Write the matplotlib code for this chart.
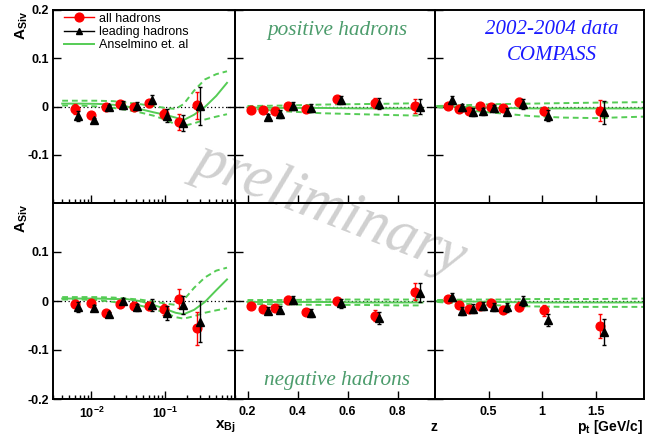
import numpy as np
import matplotlib
matplotlib.use("Agg")
import matplotlib.pyplot as plt
from matplotlib.lines import Line2D
from matplotlib.ticker import LogLocator, NullFormatter, FixedLocator

plt.rcParams['font.family'] = ['Liberation Sans', 'DejaVu Sans']
plt.rcParams['mathtext.fontset'] = 'custom'
plt.rcParams['mathtext.bf'] = 'Liberation Sans:bold'
plt.rcParams['mathtext.rm'] = 'Liberation Sans:bold'

# ---------------- x_Bj binning ----------------
xbj_all = [0.0059, 0.0100, 0.0157, 0.0243, 0.0382, 0.0605, 0.0969, 0.155, 0.276]
xbj_lead = [0.0066, 0.0109, 0.0174, 0.0270, 0.0420, 0.0670, 0.107, 0.174, 0.300]
pos_xbj_all = [-0.0055, -0.0186, 0.000, 0.006, -0.001, 0.007, -0.015, -0.032, 0.003]
pos_xbj_all_err = [0.011, 0.006, 0.005, 0.006, 0.006, 0.007, 0.010, 0.016, 0.028]
pos_xbj_lead = [-0.020, -0.028, -0.002, 0.003, 0.001, 0.014, -0.019, -0.034, 0.001]
pos_xbj_lead_err = [0.010, 0.005, 0.006, 0.008, 0.008, 0.009, 0.013, 0.017, 0.040]
neg_xbj_all = [-0.007, -0.005, -0.024, -0.006, -0.010, -0.010, -0.017, 0.005, -0.056]
neg_xbj_all_err = [0.006, 0.006, 0.006, 0.005, 0.006, 0.008, 0.011, 0.019, 0.033]
neg_xbj_lead = [-0.012, -0.015, -0.027, 0.000, -0.013, -0.008, -0.024, -0.008, -0.042]
neg_xbj_lead_err = [0.010, 0.006, 0.005, 0.006, 0.007, 0.012, 0.014, 0.018, 0.042]

# ---------------- z binning ----------------
z_all = [0.212, 0.262, 0.311, 0.362, 0.432, 0.556, 0.709, 0.870]
z_lead = [0.282, 0.331, 0.381, 0.454, 0.573, 0.726, 0.891]
pos_z_all = [-0.007, -0.007, -0.010, 0.001, -0.005, 0.015, 0.007, 0.001]
pos_z_all_err = [0.005, 0.005, 0.006, 0.007, 0.005, 0.006, 0.010, 0.015]
pos_z_lead = [-0.022, -0.015, 0.001, -0.003, 0.014, 0.006, 0.000]
pos_z_lead_err = [0.006, 0.008, 0.009, 0.008, 0.008, 0.011, 0.016]
neg_z_all = [-0.010, -0.016, -0.014, 0.003, -0.023, -0.001, -0.030, 0.019]
neg_z_all_err = [0.005, 0.005, 0.006, 0.007, 0.006, 0.008, 0.011, 0.017]
neg_z_lead = [-0.020, -0.018, 0.002, -0.025, -0.005, -0.034, 0.017]
neg_z_lead_err = [0.007, 0.007, 0.009, 0.008, 0.009, 0.012, 0.020]

# ---------------- p_t binning ----------------
pt_all = [0.118, 0.220, 0.320, 0.419, 0.519, 0.637, 0.786, 1.016, 1.540]
pt_lead = [0.158, 0.255, 0.354, 0.450, 0.553, 0.674, 0.823, 1.050, 1.578]
pos_pt_all = [0.001, -0.005, -0.009, 0.001, 0.000, -0.003, 0.010, -0.010, -0.009]
pos_pt_all_err = [0.006, 0.006, 0.006, 0.005, 0.006, 0.006, 0.007, 0.008, 0.022]
pos_pt_lead = [0.014, -0.002, -0.011, -0.010, -0.004, -0.011, 0.005, -0.019, -0.012]
pos_pt_lead_err = [0.008, 0.008, 0.008, 0.007, 0.007, 0.007, 0.010, 0.011, 0.024]
neg_pt_all = [0.004, -0.008, -0.016, -0.011, -0.005, -0.018, -0.012, -0.019, -0.051]
neg_pt_all_err = [0.006, 0.006, 0.006, 0.006, 0.007, 0.007, 0.009, 0.011, 0.025]
neg_pt_lead = [0.009, -0.020, -0.016, -0.010, -0.013, -0.013, 0.000, -0.038, -0.063]
neg_pt_lead_err = [0.008, 0.008, 0.009, 0.008, 0.008, 0.009, 0.010, 0.012, 0.027]

# ---------------- Anselmino et al. predictions (central, upper, lower) ----------------
th_xbj = [0.004, 0.007, 0.012, 0.02, 0.03, 0.045, 0.07, 0.1, 0.14, 0.18, 0.25, 0.35, 0.5, 0.7]
th_pos_xbj = [0.006, 0.006, 0.0055, 0.0035, 0.0, -0.005, -0.012, -0.017, -0.023, -0.028, -0.017, -0.001, 0.022, 0.049]
th_pos_xbj_up = [0.012, 0.012, 0.012, 0.011, 0.008, 0.005, 0.001, -0.003, -0.005, 0.005, 0.033, 0.056, 0.067, 0.073]
th_pos_xbj_lo = [0.002, 0.002, 0.000, -0.003, -0.007, -0.012, -0.019, -0.027, -0.037, -0.040, -0.035, -0.027, -0.021, -0.016]
th_neg_xbj = [0.005, 0.005, 0.005, 0.004, 0.004, 0.000, -0.008, -0.016, -0.024, -0.027, -0.018, -0.002, 0.022, 0.044]
th_neg_xbj_up = [0.008, 0.008, 0.008, 0.007, 0.005, 0.003, -0.001, -0.005, -0.008, 0.002, 0.027, 0.048, 0.062, 0.068]
th_neg_xbj_lo = [0.003, 0.003, 0.002, -0.002, -0.005, -0.009, -0.016, -0.024, -0.033, -0.036, -0.031, -0.024, -0.019, -0.015]

th_z = [0.2, 0.35, 0.5, 0.65, 0.8, 0.9]
th_pos_z = [-0.002, -0.003, -0.003, -0.004, -0.004, -0.004]
th_pos_z_up = [0.001, 0.002, 0.004, 0.005, 0.006, 0.007]
th_pos_z_lo = [-0.004, -0.010, -0.014, -0.016, -0.018, -0.019]
th_neg_z = [-0.002, -0.002, -0.002, -0.003, -0.003, -0.003]
th_neg_z_up = [0.002, 0.002, 0.003, 0.003, 0.003, 0.003]
th_neg_z_lo = [-0.006, -0.007, -0.008, -0.008, -0.009, -0.009]

th_pt = [0.02, 0.3, 0.6, 0.9, 1.2, 1.5, 1.95]
th_pos_pt = [0.001, -0.001, -0.003, -0.004, -0.004, -0.004, -0.004]
th_pos_pt_up = [0.001, 0.003, 0.005, 0.006, 0.007, 0.008, 0.009]
th_pos_pt_lo = [-0.001, -0.008, -0.014, -0.020, -0.023, -0.024, -0.021]
th_neg_pt = [0.000, -0.001, -0.002, -0.003, -0.003, -0.003, -0.003]
th_neg_pt_up = [0.002, 0.003, 0.003, 0.004, 0.004, 0.004, 0.005]
th_neg_pt_lo = [-0.002, -0.006, -0.009, -0.011, -0.012, -0.012, -0.012]

RED = '#ff0000'
GREEN = '#55cc55'
W, H = 665, 438

fig = plt.figure(figsize=(W / 100, H / 100), dpi=100)


def px_axes(x0, x1, y0, y1):
    return fig.add_axes([x0 / W, 1 - y1 / H, (x1 - x0) / W, (y1 - y0) / H],
                        facecolor='none')


cols = [(53, 235), (235, 435), (435, 644)]
rows = [(10, 203), (203, 399)]

panels = [
    # (row, col, xa, ya, yea, xl, yl, yel, thx, th, thu, thl)
    (0, 0, xbj_all, pos_xbj_all, pos_xbj_all_err, xbj_lead, pos_xbj_lead, pos_xbj_lead_err,
     th_xbj, th_pos_xbj, th_pos_xbj_up, th_pos_xbj_lo),
    (1, 0, xbj_all, neg_xbj_all, neg_xbj_all_err, xbj_lead, neg_xbj_lead, neg_xbj_lead_err,
     th_xbj, th_neg_xbj, th_neg_xbj_up, th_neg_xbj_lo),
    (0, 1, z_all, pos_z_all, pos_z_all_err, z_lead, pos_z_lead, pos_z_lead_err,
     th_z, th_pos_z, th_pos_z_up, th_pos_z_lo),
    (1, 1, z_all, neg_z_all, neg_z_all_err, z_lead, neg_z_lead, neg_z_lead_err,
     th_z, th_neg_z, th_neg_z_up, th_neg_z_lo),
    (0, 2, pt_all, pos_pt_all, pos_pt_all_err, pt_lead, pos_pt_lead, pos_pt_lead_err,
     th_pt, th_pos_pt, th_pos_pt_up, th_pos_pt_lo),
    (1, 2, pt_all, neg_pt_all, neg_pt_all_err, pt_lead, neg_pt_lead, neg_pt_lead_err,
     th_pt, th_neg_pt, th_neg_pt_up, th_neg_pt_lo),
]

xlims = [(0.003, 0.9), (0.15, 0.95), (0.0, 1.95)]

axes = {}
for (r, c, xa, ya, yea, xl, yl, yel, thx, th, thu, thl) in panels:
    ax = px_axes(cols[c][0], cols[c][1], rows[r][0], rows[r][1])
    axes[(r, c)] = ax
    if c == 0:
        ax.set_xscale('log')
    ax.set_xlim(*xlims[c])
    ax.set_ylim(-0.2, 0.2)

    ax.axhline(0, color='black', lw=0.9, ls=(0, (1, 2)), zorder=1)
    ax.plot(thx, th, color=GREEN, lw=1.4, zorder=2)
    ax.plot(thx, thu, color=GREEN, lw=1.4, ls=(0, (3, 2)), zorder=2)
    ax.plot(thx, thl, color=GREEN, lw=1.4, ls=(0, (3, 2)), zorder=2)

    ax.errorbar(xa, ya, yerr=yea, fmt='o', color=RED, ms=6.3, elinewidth=1.0,
                capsize=1.5, capthick=1.0, zorder=4)
    ax.errorbar(xl, yl, yerr=yel, fmt='^', color='black', ms=5.5, elinewidth=1.0,
                capsize=1.5, capthick=1.0, zorder=5)

    for s in ax.spines.values():
        s.set_linewidth(1.4)

    ax.tick_params(axis='both', which='both', direction='in', top=False,
                   right=(c < 2), labelsize=9, width=1.0)
    ax.tick_params(axis='both', which='major', length=6)
    ax.tick_params(axis='x', which='minor', length=3)

    if c == 0:
        ax.xaxis.set_major_locator(FixedLocator([0.01, 0.1]))
        ax.xaxis.set_minor_locator(LogLocator(base=10, subs=np.arange(2, 10)))
        ax.xaxis.set_minor_formatter(NullFormatter())
        ax.set_xticklabels([r'$\mathbf{10^{-2}}$', r'$\mathbf{10^{-1}}$'])
    elif c == 1:
        ax.set_xticks([0.2, 0.4, 0.6, 0.8])
        ax.set_xticklabels(['0.2', '0.4', '0.6', '0.8'])
        ax.minorticks_off()
    else:
        ax.set_xticks([0.5, 1.0, 1.5])
        ax.set_xticklabels(['0.5', '1', '1.5'])
        ax.minorticks_off()

    if r == 0:
        ax.set_yticks([-0.1, 0.0, 0.1, 0.2])
        ax.set_yticklabels(['-0.1', '0', '0.1', '0.2'])
    else:
        ax.set_yticks([-0.2, -0.1, 0.0, 0.1])
        ax.set_yticklabels(['-0.2', '-0.1', '0', '0.1'])
    for lab in ax.get_xticklabels() + ax.get_yticklabels():
        lab.set_fontweight('bold')
    if c > 0:
        ax.tick_params(axis='y', labelleft=False)
    if r == 0:
        ax.tick_params(axis='x', labelbottom=False)
    ax.tick_params(axis='x', pad=5)
    ax.tick_params(axis='y', pad=3)

# y-axis titles
for r in range(2):
    fig.text(22 / W, 1 - (rows[r][0] + 1) / H, r'$\mathbf{A_{Siv}}$', rotation=90,
             ha='center', va='top', fontsize=11)

# x-axis titles
fig.text(236 / W, 1 - 427 / H, r'$\mathbf{x_{Bj}}$', ha='right', va='center', fontsize=11)
fig.text(437 / W, 1 - 427 / H, 'z', ha='right', va='center', fontsize=10, fontweight='bold')
fig.text(643 / W, 1 - 427 / H, r'$\mathbf{p_t}$ [GeV/c]', ha='right', va='center',
         fontsize=10, fontweight='bold')

# panel captions
serif = dict(family='Liberation Serif', style='italic')
fig.text(337 / W, 1 - 30 / H, 'positive hadrons', ha='center', va='center',
         fontsize=15.3, color='#4c9c6c', **serif)
fig.text(337 / W, 1 - 380 / H, 'negative hadrons', ha='center', va='center',
         fontsize=15.3, color='#4c9c6c', **serif)
fig.text(552 / W, 1 - 30 / H, '2002-2004 data', ha='center', va='center',
         fontsize=15, color='#1a1aff', **serif)
fig.text(552 / W, 1 - 56 / H, 'COMPASS', ha='center', va='center',
         fontsize=15, color='#1a1aff', **serif)

# watermark
fig.text(330 / W, 1 - 208 / H, 'preliminary', ha='center', va='center', rotation=-21,
         fontsize=44, color='#d0d0d0', zorder=-5, **serif)

# legend
handles = [
    Line2D([], [], color=RED, marker='o', ms=6.3, lw=1.0),
    Line2D([], [], color='black', marker='^', ms=5, lw=1.0),
    Line2D([], [], color=GREEN, lw=1.4),
]
axes[(0, 0)].legend(handles, ['all hadrons', 'leading hadrons', 'Anselmino et. al'],
                    loc='upper left', bbox_to_anchor=(0.02, 1.025), frameon=False,
                    fontsize=9, handlelength=2.4, handletextpad=0.4,
                    labelspacing=0.1, borderaxespad=0.2)

fig.savefig('out.png', dpi=100)
